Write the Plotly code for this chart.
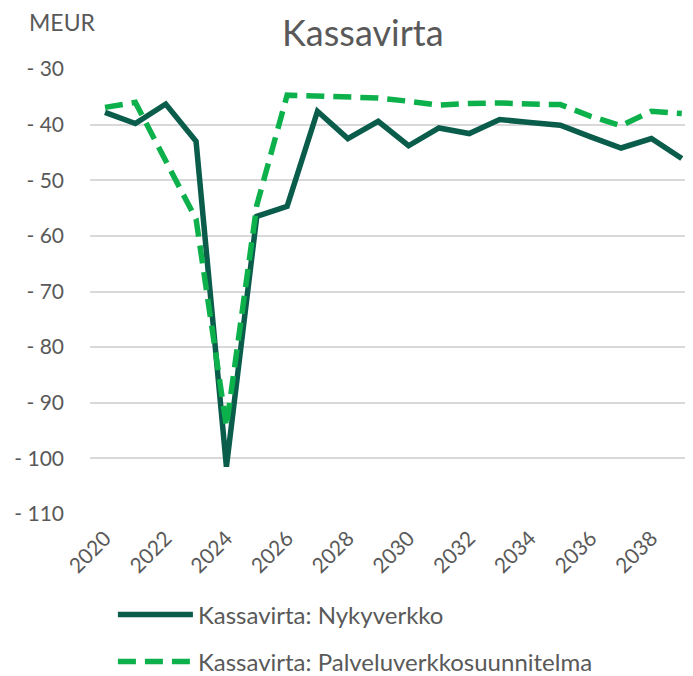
import plotly.graph_objects as go

years = list(range(2020, 2040))
nykyverkko = [-37.8, -39.8, -36.3, -43.0, -101.5, -56.5, -54.7, -37.6, -42.5, -39.4,
              -43.8, -40.6, -41.6, -39.1, -39.6, -40.1, -42.2, -44.2, -42.5, -46.1]
palveluverkko = [-36.9, -36.0, -46.5, -57.0, -94.3, -54.5, -34.7, -34.9, -35.0, -35.2,
                 -35.8, -36.5, -36.2, -36.1, -36.3, -36.4, -38.5, -40.2, -37.6, -38.0]
y_ticks = [-30, -40, -50, -60, -70, -80, -90, -100, -110]
y_tick_labels = ["- 30", "- 40", "- 50", "- 60", "- 70", "- 80", "- 90", "- 100", "- 110"]
x_ticks = list(range(2020, 2039, 2))

FONT = "Lato"
GREY = "#595959"

fig = go.Figure()
fig.add_trace(go.Scatter(
    x=years, y=nykyverkko, mode="lines", name="Kassavirta: Nykyverkko",
    legendgroup="a",
    line=dict(color="#0A5C4B", width=5.5),
))
fig.add_trace(go.Scatter(
    x=years, y=palveluverkko, mode="lines", name="Kassavirta: Palveluverkkosuunnitelma",
    legendgroup="b",
    line=dict(color="#0DB14B", width=5.5, dash="18px,9px"),
))

fig.update_layout(
    width=685, height=668,
    margin=dict(l=82, r=0, t=61, b=162, autoexpand=False),
    plot_bgcolor="white", paper_bgcolor="white",
    font=dict(family=FONT, color=GREY, size=21),
    title=dict(text="Kassavirta", xref="container", yref="container",
               x=0.518, y=0.9626, xanchor="center", yanchor="middle",
               font=dict(family=FONT, size=36, color=GREY)),
    showlegend=True,
    legend=dict(orientation="v", x=0.038, y=-0.176, xanchor="left", yanchor="top",
                traceorder="grouped", tracegroupgap=13, itemwidth=75,
                font=dict(family=FONT, size=24, color=GREY),
                bgcolor="rgba(0,0,0,0)"),
    xaxis=dict(range=[2019.506, 2039.37], tickmode="array", tickvals=x_ticks,
               tickangle=-45, showgrid=False, zeroline=False, showline=False,
               ticks="", automargin=False, ticklabelstandoff=7,
               tickfont=dict(family=FONT, size=21, color=GREY)),
    yaxis=dict(range=[-110, -30], tickmode="array", tickvals=y_ticks,
               ticktext=y_tick_labels, showgrid=True, gridcolor="#D9D9D9",
               gridwidth=1.5, zeroline=False, showline=False, ticks="",
               ticklabelstandoff=25, automargin=False,
               tickfont=dict(family=FONT, size=21, color=GREY)),
    annotations=[dict(text="MEUR", xref="paper", yref="paper", x=-0.0448, y=1.0,
                      xanchor="center", yanchor="middle", yshift=47, showarrow=False,
                      font=dict(family=FONT, size=23, color=GREY))],
)

fig.write_html("out.html")
